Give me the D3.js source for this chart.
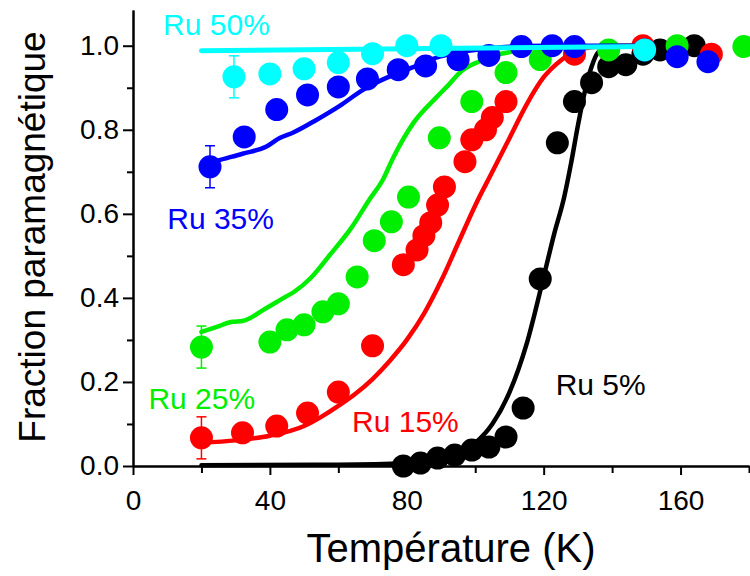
<!DOCTYPE html>
<html>
<head>
<meta charset="utf-8">
<script src="https://cdn.jsdelivr.net/npm/d3@7"></script>
<style>
  html, body { margin: 0; padding: 0; background: #fff; }
  svg { display: block; font-family: "Liberation Sans", Arial, sans-serif; }
</style>
</head>
<body>
<svg id="chart" width="750" height="576"></svg>
<script>
// ---------- data ----------
const xMajorTicks = [0, 40, 80, 120, 160];
const xMinorTicks = [20, 60, 100, 140, 180];
const yMajorTicks = [0, 0.2, 0.4, 0.6, 0.8, 1.0];
const yMinorTicks = [0.1, 0.3, 0.5, 0.7, 0.9];

// Ru 5% (black)
const t5 = [79, 84, 89, 94, 99, 104, 109, 114, 119, 124, 129, 134, 139, 144, 149, 154, 164];
const f5 = [0.0, 0.007, 0.019, 0.026, 0.038, 0.045, 0.069, 0.138, 0.445, 0.769, 0.867, 0.912, 0.95, 0.955, 0.98, 0.99, 1.0];
const fitT5 = [20, 60, 80, 85, 90, 95, 100, 105, 110, 115, 120, 123, 126, 128, 130, 132, 134, 136, 140, 150];
const fitF5 = [0.002, 0.003, 0.007, 0.01, 0.016, 0.03, 0.055, 0.10, 0.175, 0.29, 0.45, 0.55, 0.64, 0.72, 0.81, 0.89, 0.95, 0.985, 0.998, 1.0];

// Ru 15% (red)
const t15 = [20, 32, 42, 51, 60, 70, 79, 83, 85, 87, 89, 91, 97, 99, 103, 105, 109, 129, 149, 169];
const f15 = [0.067, 0.079, 0.095, 0.126, 0.176, 0.286, 0.479, 0.514, 0.548, 0.579, 0.621, 0.664, 0.724, 0.776, 0.80, 0.829, 0.867, 0.98, 1.0, 0.98];
const fitT15 = [20, 30, 40, 50, 55, 60, 65, 70, 75, 80, 85, 90, 95, 100, 105, 110, 115, 120, 125, 130, 140, 150];
const fitF15 = [0.055, 0.061, 0.072, 0.095, 0.117, 0.143, 0.172, 0.207, 0.25, 0.30, 0.362, 0.44, 0.53, 0.62, 0.70, 0.78, 0.86, 0.925, 0.965, 0.99, 1.0, 1.0];

// Ru 25% (green)
const t25 = [20, 40, 45, 50, 55.5, 60, 65.5, 70.5, 75.5, 80.5, 89.5, 99, 109, 119, 139, 159, 178.5];
const f25 = [0.283, 0.295, 0.324, 0.336, 0.367, 0.386, 0.45, 0.536, 0.581, 0.64, 0.781, 0.867, 0.936, 0.967, 0.99, 1.0, 0.998];
const fitT25 = [20, 24.5, 29, 32, 39, 44, 47, 52, 57.5, 64, 69, 73, 76, 82, 89, 92, 96, 101, 106, 111, 116, 125, 150];
const fitF25 = [0.319, 0.331, 0.343, 0.345, 0.376, 0.4, 0.414, 0.448, 0.502, 0.569, 0.633, 0.681, 0.733, 0.817, 0.88, 0.905, 0.94, 0.962, 0.978, 0.986, 0.993, 0.998, 1.0];

// Ru 35% (blue)
const t35 = [22.5, 32.5, 42, 51, 60, 68.5, 77.5, 85.5, 95, 104, 113.5, 122.5, 129, 149.5, 159, 168];
const f35 = [0.712, 0.783, 0.848, 0.883, 0.902, 0.921, 0.943, 0.952, 0.967, 0.977, 0.998, 1.0, 0.998, 0.99, 0.974, 0.962];
const fitT35 = [22, 24.5, 32, 39, 43, 46.7, 53.7, 60.4, 67.2, 74.2, 80, 89.6, 98, 107, 120, 150];
const fitF35 = [0.72, 0.726, 0.743, 0.76, 0.781, 0.793, 0.824, 0.857, 0.895, 0.924, 0.943, 0.974, 0.988, 0.996, 1.0, 1.0];

// Ru 50% (cyan)
const t50 = [29.5, 40, 50, 60, 70, 80, 90, 149.5];
const f50 = [0.926, 0.933, 0.945, 0.96, 0.981, 1.0, 1.0, 0.99];
const fitT50 = [20, 150];
const fitF50 = [0.988, 0.998];

// error bars at first point of each series
const errT = [20, 20, 22.5, 29.5];
const errF = [0.067, 0.283, 0.712, 0.926];
const errE = [0.05, 0.05, 0.05, 0.05];
const errColors = ["#ff0000", "#00ee00", "#0000ff", "#00ffff"];

const seriesNames = ["Ru 5%", "Ru 15%", "Ru 25%", "Ru 35%", "Ru 50%"];
const seriesColors = ["#000000", "#ff0000", "#00ee00", "#0000ff", "#00ffff"];
const labelT = [123.5, 64, 4.5, 10, 8.8];
const labelF = [0.17, 0.08, 0.135, 0.565, 1.025];

const series = [
  {t: t5, f: f5, ft: fitT5, ff: fitF5},
  {t: t15, f: f15, ft: fitT15, ff: fitF15},
  {t: t25, f: f25, ft: fitT25, ff: fitF25},
  {t: t35, f: f35, ft: fitT35, ff: fitF35},
  {t: t50, f: f50, ft: fitT50, ff: fitF50}
];

// ---------- chart ----------
const svg = d3.select("#chart");
const x = d3.scaleLinear().domain([0, 180]).range([133, 749]);
const y = d3.scaleLinear().domain([0, 1.085]).range([466, 10]);
const x0 = x(0), y0 = y(0);

const line = d3.line().x(d => x(d[0])).y(d => y(d[1])).curve(d3.curveMonotoneX);

series.forEach((s, i) => {
  const g = svg.append("g");
  const pts = s.t.map((t, j) => [t, s.f[j]]);
  g.selectAll("circle").data(pts).enter().append("circle")
    .attr("cx", d => x(d[0])).attr("cy", d => y(d[1])).attr("r", 11.5)
    .attr("fill", seriesColors[i]);
  const fit = s.ft.map((t, j) => [t, s.ff[j]]);
  g.append("path").datum(fit).attr("d", line)
    .attr("fill", "none").attr("stroke", seriesColors[i])
    .attr("stroke-width", i === 4 ? 5 : 4.5).attr("stroke-linecap", "round").attr("stroke-linejoin", "round");
});

// error bars
const eb = svg.append("g");
errT.forEach((t, i) => {
  const cx = x(t), top = y(errF[i] + errE[i]), bot = y(errF[i] - errE[i]);
  eb.append("line").attr("x1", cx).attr("x2", cx).attr("y1", top).attr("y2", bot)
    .attr("stroke", errColors[i]).attr("stroke-width", 1.5);
  [top, bot].forEach(yy => eb.append("line").attr("x1", cx - 5).attr("x2", cx + 5)
    .attr("y1", yy).attr("y2", yy).attr("stroke", errColors[i]).attr("stroke-width", 1.5));
});

// labels
seriesNames.forEach((n, i) => {
  svg.append("text").attr("x", x(labelT[i])).attr("y", y(labelF[i]))
    .attr("fill", seriesColors[i]).attr("font-size", 30).text(n);
});

// axes
const fmt = d3.format(".1f");
const xAxis = svg.append("g").attr("transform", `translate(0,${y0})`)
  .call(d3.axisBottom(x).tickValues(xMajorTicks).tickSize(9).tickPadding(15).tickSizeOuter(0).tickFormat(d3.format("d")));
const xAxisMinor = svg.append("g").attr("transform", `translate(0,${y0})`)
  .call(d3.axisBottom(x).tickValues(xMinorTicks).tickSize(7).tickSizeOuter(0).tickFormat(""));
const yAxis = svg.append("g").attr("transform", `translate(${x0},0)`)
  .call(d3.axisLeft(y).tickValues(yMajorTicks).tickSize(10).tickPadding(4).tickSizeOuter(0).tickFormat(fmt));
const yAxisMinor = svg.append("g").attr("transform", `translate(${x0},0)`)
  .call(d3.axisLeft(y).tickValues(yMinorTicks).tickSize(6).tickSizeOuter(0).tickFormat(""));

[xAxis, xAxisMinor, yAxis, yAxisMinor].forEach(a => {
  a.selectAll("path").attr("stroke", "#000").attr("stroke-width", 2);
  a.selectAll("line").attr("stroke", "#000").attr("stroke-width", 2);
  a.selectAll("text").attr("font-size", 28).attr("fill", "#000")
    .attr("font-family", "'Liberation Sans', Arial, sans-serif");
});

svg.append("text").attr("x", 451).attr("y", 562).attr("text-anchor", "middle")
  .attr("font-size", 40).attr("fill", "#000").text("Température (K)");
svg.append("text").attr("transform", "translate(45,237) rotate(-90)").attr("text-anchor", "middle")
  .attr("font-size", 37).attr("fill", "#000").text("Fraction paramagnétique");
</script>
</body>
</html>
